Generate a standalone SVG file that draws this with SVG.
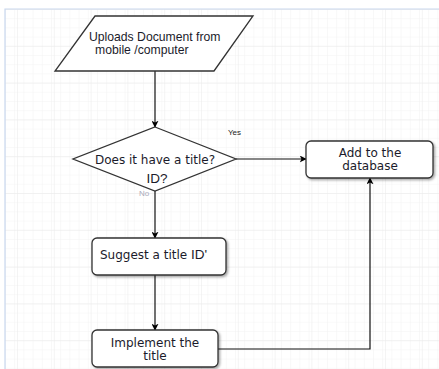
<svg xmlns="http://www.w3.org/2000/svg" width="439" height="369" viewBox="0 0 439 369">
  <defs>
    <pattern id="gridMinor" width="9.2" height="9.2" patternUnits="userSpaceOnUse" x="5" y="9">
      <path d="M 9.2 0 L 0 0 0 9.2" fill="none" stroke="#f3f3f3" stroke-width="1"/>
    </pattern>
    <pattern id="gridMajor" width="36.8" height="36.8" patternUnits="userSpaceOnUse" x="17" y="9">
      <path d="M 36.8 0 L 0 0 0 36.8" fill="none" stroke="#eaeaea" stroke-width="1"/>
    </pattern>
    <marker id="arrow" viewBox="0 0 10 10" refX="9" refY="5" markerWidth="7" markerHeight="7" orient="auto" markerUnits="userSpaceOnUse">
      <path d="M0,0 L10,5 L0,10 L2.5,5 Z" fill="#000"/>
    </marker>
    <filter id="shadow" x="-10%" y="-10%" width="130%" height="140%">
      <feDropShadow dx="1.5" dy="1.5" stdDeviation="1" flood-color="#000" flood-opacity="0.35"/>
    </filter>
  </defs>
  <style>
    .shape { fill: #fff; stroke: #333; stroke-width: 1.3; }
    .box { filter: url(#shadow); }
    .edge { fill: none; stroke: #111; stroke-width: 1.2; }
    .lbl { font-family: "DejaVu Sans", Verdana, sans-serif; font-size: 12px; fill: #1b1b2b; }
    .mid { text-anchor: middle; }
    .arial { font-family: "Liberation Sans", Arial, sans-serif; fill: #1b1b2b; }
    .small { font-family: "Liberation Sans", Arial, sans-serif; font-size: 8px; fill: #222; }
  </style>

  <!-- canvas background with grid -->
  <rect width="439" height="369" fill="#fff"/>
  <rect x="5" y="9" width="434" height="360" fill="url(#gridMinor)"/>
  <rect x="5" y="9" width="434" height="360" fill="url(#gridMajor)"/>
  <path d="M5,369 L5,9 L439,9" fill="none" stroke="#c9d7ee" stroke-width="1.2"/>

  <!-- connectors -->
  <g id="connectors">
    <path class="edge" d="M155,71 L155,127" marker-end="url(#arrow)"/>
    <path class="edge" d="M236,159 L306,159" marker-end="url(#arrow)"/>
    <path class="edge" d="M155,191 L155,238" marker-end="url(#arrow)"/>
    <path class="edge" d="M155,275 L155,330" marker-end="url(#arrow)"/>
    <path class="edge" d="M218,349 L370,349 L370,178" marker-end="url(#arrow)"/>
    <text class="small" x="228" y="135">Yes</text>
    <text class="small" x="139" y="196" style="fill:#aab">No</text>
  </g>

  <g id="upload">
    <polygon class="shape" points="95,16 253,16 214,71 55,71"/>
    <text class="arial" font-size="12.2" x="89" y="41">Uploads Document from</text>
    <text class="arial" font-size="12.2" x="95" y="54">mobile /computer</text>
  </g>

  <g id="decision">
    <polygon class="shape" points="155,127 236,159 155,191 73,159"/>
    <text class="lbl mid" x="155" y="164">Does it have a title?</text>
    <text class="arial mid" font-size="13.5" x="157" y="183">ID?</text>
  </g>

  <g id="database">
    <rect class="shape box" x="306" y="141" width="127" height="37" rx="5"/>
    <text class="lbl mid" x="370" y="157">Add to the</text>
    <text class="lbl mid" x="370" y="170">database</text>
  </g>

  <g id="suggest">
    <rect class="shape box" x="92" y="238" width="134" height="37" rx="5"/>
    <text class="lbl" x="100" y="259">Suggest a title <tspan class="arial" font-size="13.5">ID'</tspan></text>
  </g>

  <g id="implement">
    <rect class="shape box" x="92" y="330" width="126" height="37" rx="5"/>
    <text class="lbl mid" x="155" y="347">Implement the</text>
    <text class="lbl mid" x="155" y="360">title</text>
  </g>
</svg>
